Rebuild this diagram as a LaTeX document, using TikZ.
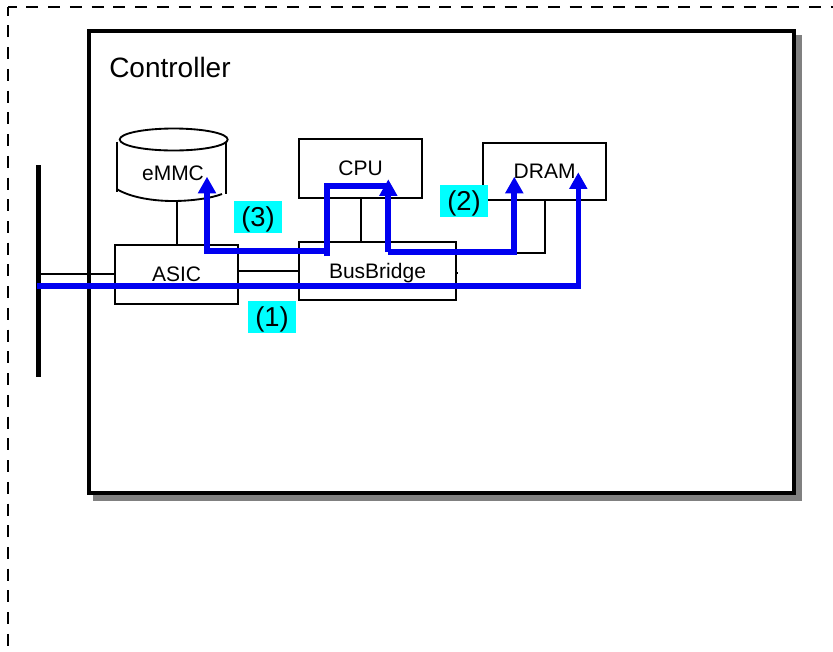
\documentclass[tikz,border=0pt]{standalone}
\usepackage{fontspec}
\setmainfont{Liberation Sans}
\usetikzlibrary{arrows.meta}
\definecolor{routeblue}{RGB}{0,0,240}
\definecolor{tagcyan}{RGB}{0,255,255}
\tikzset{
  px/.style={x=0.75pt,y=-0.75pt},
  thinline/.style={draw=black,line width=1.4pt},
  unitbox/.style={thinline,fill=white,inner sep=0pt,font=\fontsize{15.75pt}{18pt}\selectfont,text height=11.3pt,text depth=0pt},
  tagbox/.style={fill=tagcyan,inner sep=0pt,minimum width=36pt,minimum height=24pt,font=\fontsize{20.5pt}{24pt}\selectfont,text height=14.6pt,text depth=0pt},
  route/.style={draw=routeblue,line width=4.5pt,line cap=butt,line join=miter},
  thinroute/.style={route,line width=3.8pt},
  routetip/.style={-{Triangle[length=12.5pt,width=13pt,sep=0pt]}},
  framedash/.style={line width=1.5pt,dash pattern=on 9pt off 7.3pt,dash phase=2.5pt},
}
\begin{document}
\begin{tikzpicture}[px]
\useasboundingbox (0,0) rectangle (833,651);
\clip (0,0) rectangle (833,651);
\fill[white] (0,0) rectangle (833,651);
% outer dashed frame
\coordinate (frameBL) at (8,660);
\coordinate (frameTL) at (8,7);
\coordinate (frameTR) at (840,7);
\draw[framedash] (frameTL) -- (frameBL);
\draw[framedash] (frameTL) -- (frameTR);
% controller
\fill[black!50] (93,35) rectangle (802,501);
\node[draw=black,fill=white,line width=3pt,inner sep=0pt,minimum width=529.1pt,minimum height=346.5pt] (ctrl) at (441.25,262) {};
\node[anchor=base west,inner sep=0pt,font=\fontsize{21pt}{24pt}\selectfont] (ctrlT) at (109,77) {Controller};
% external bus
\node[fill=black,inner sep=0pt,minimum width=3.8pt,minimum height=159pt] (bar) at (38.3,271) {};
% units
\node[unitbox,minimum width=92.5pt,minimum height=44pt] (asic) at (176.65,274.35) {ASIC};
\node[unitbox,minimum width=117.75pt,minimum height=43.7pt] (bus) at (377.5,270.85) {BusBridge};
\node[unitbox,minimum width=92.5pt,minimum height=44.25pt] (cpu) at (360.65,168.2) {CPU};
\node[unitbox,minimum width=92.5pt,minimum height=42.75pt] (dram) at (544.65,171.2) {DRAM};
% eMMC cylinder
\node[inner sep=0pt,minimum width=82pt,minimum height=55pt] (emmc) at (171.4,164.7) {};
\draw[thinline] (116.7,141.7) -- (116.7,192);
\draw[thinline] (226,141.7) -- (226,194);
\draw[thinline] (117.5,189.5) .. controls (132,198) and (155,201) .. (173,201) .. controls (192,201) and (212,198) .. (222,194);
\draw[thinline] (173.7,139.5) ellipse [x radius=54,y radius=11];
\node[inner sep=0pt,font=\fontsize{15.75pt}{18pt}\selectfont,text height=11.3pt,text depth=0pt] (emmcT) at (173,173.2) {eMMC};
% connectors
\coordinate (busPort) at (456,253);
\coordinate (busStub) at (458,273);
\draw[thinline] (bar.east |- asic.west) -- (asic.west);
\draw[thinline] (asic.east |- bus.west) -- (bus.west);
\draw[thinline] (asic.north |- emmc.south) -- (asic.north);
\draw[thinline] (cpu.south) -- (cpu.south |- bus.north);
\draw[thinline] (dram.south) |- (busPort);
\draw[thinline] (bus.east |- busStub) -- (busStub);
% tags
\node[tagbox] (tag3) at (258,217) {(3)};
\node[tagbox] (tag1) at (272,317) {(1)};
\node[tagbox] (tag2) at (464,201) {(2)};
% routes
\coordinate (r1a) at (37,286);
\coordinate (r1b) at (578.3,286);
\coordinate (r1tip) at (578.3,172.3);
\coordinate (r2a) at (388.3,252);
\coordinate (r2b) at (514.3,252);
\coordinate (r2tip) at (514.3,176.7);
\coordinate (r2cpu) at (388.3,179.3);
\coordinate (r3a) at (327,250.5);
\coordinate (r3b) at (207,250.5);
\coordinate (r3tip) at (207,176.7);
\coordinate (r4a) at (327,256);
\coordinate (r4b) at (327,185.7);
\coordinate (r4c) at (388.3,185.7);
\draw[thinroute,routetip] (r1a) -- (r1b) -- (r1tip);
\draw[route,routetip] (r2a) -- (r2cpu);
\draw[route,routetip] (r2a) -- (r2b) -- (r2tip);
\draw[route,routetip] (r3a) -- (r3b) -- (r3tip);
\draw[route] (r4a) -- (r4b) -- (r4c);
\end{tikzpicture}
\end{document}
